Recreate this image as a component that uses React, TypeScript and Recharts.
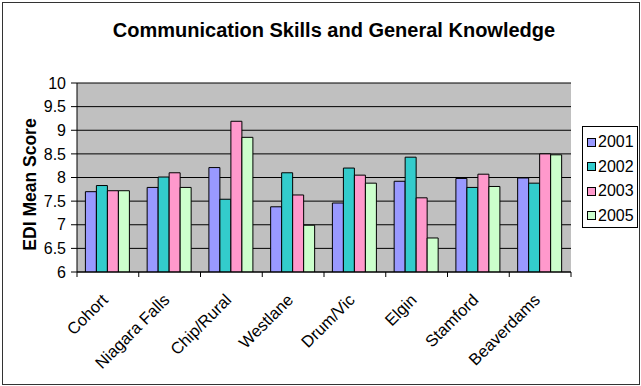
import { BarChart, Bar, XAxis, YAxis, CartesianGrid, Legend } from 'recharts';

const FONT = '"Liberation Sans", Arial, sans-serif';

const schools = [
  'Cohort',
  'Niagara Falls',
  'Chip/Rural',
  'Westlane',
  'Drum/Vic',
  'Elgin',
  'Stamford',
  'Beaverdams',
];
const scores2001 = [7.7, 7.79, 8.21, 7.38, 7.46, 7.92, 7.98, 7.99];
const scores2002 = [7.83, 8.01, 7.54, 8.1, 8.2, 8.43, 7.79, 7.88];
const scores2003 = [7.72, 8.1, 9.19, 7.63, 8.05, 7.57, 8.07, 8.5];
const scores2005 = [7.72, 7.79, 8.85, 6.99, 7.88, 6.72, 7.81, 8.48];
const yTicks = [6, 6.5, 7, 7.5, 8, 8.5, 9, 9.5, 10];

const series = [
  { key: 'y2001', name: '2001', color: '#9999FF' },
  { key: 'y2002', name: '2002', color: '#33CCCC' },
  { key: 'y2003', name: '2003', color: '#FF99CC' },
  { key: 'y2005', name: '2005', color: '#CCFFCC' },
];

const data = schools.map((school, i) => ({
  school,
  y2001: scores2001[i],
  y2002: scores2002[i],
  y2003: scores2003[i],
  y2005: scores2005[i],
}));

// category label rotated 45deg, plus the tick marks between categories
const SchoolTick = (props: any) => {
  const { x, y, payload, index } = props;
  const half = payload && payload.offset ? payload.offset : 30.875;
  const tx = x + 1;
  const ty = y + 29;
  return (
    <g>
      <line x1={x - half} y1={y} x2={x - half} y2={y + 5} stroke="#000" />
      {index === schools.length - 1 && (
        <line x1={x + half} y1={y} x2={x + half} y2={y + 5} stroke="#000" />
      )}
      <text
        x={tx}
        y={ty}
        textAnchor="end"
        transform={`rotate(-45, ${tx}, ${ty})`}
        fontSize={16.5}
        fontFamily={FONT}
        fill="#000"
      >
        {payload.value}
      </text>
    </g>
  );
};

const LegendBox = () => (
  <div
    style={{
      border: '1px solid #000',
      background: '#fff',
      boxSizing: 'border-box',
      height: 102,
      paddingTop: 3,
      paddingLeft: 4,
      fontFamily: FONT,
      fontSize: 16,
    }}
  >
    {series.map((s) => (
      <div key={s.key} style={{ display: 'flex', alignItems: 'center', height: 24.5 }}>
        <span
          style={{
            width: 7,
            height: 7,
            border: '1px solid #000',
            background: s.color,
            marginRight: 2,
          }}
        />
        <span>{s.name}</span>
      </div>
    ))}
  </div>
);

export default function App() {
  return (
    <div style={{ position: 'absolute', left: 0, top: 0, width: 641, height: 386, background: '#fff' }}>
      <div
        style={{
          position: 'absolute',
          left: 2,
          top: 2,
          width: 636,
          height: 381,
          border: '1px solid #333',
        }}
      />
      <div
        style={{
          position: 'absolute',
          left: 0,
          top: 19,
          width: 668,
          textAlign: 'center',
          fontFamily: FONT,
          fontWeight: 'bold',
          fontSize: 20,
        }}
      >
        Communication Skills and General Knowledge
      </div>
      <div style={{ position: 'absolute', left: 0, top: 0 }}>
        <BarChart
          width={641}
          height={386}
          data={data}
          margin={{ top: 83, right: 70, bottom: 34, left: 17 }}
          barCategoryGap="13.6%"
          barGap={0}
        >
          <CartesianGrid
            vertical={false}
            stroke="#000"
            fill="#C0C0C0"
            fillOpacity={1}
          />
          <XAxis
            dataKey="school"
            height={80}
            interval={0}
            tickLine={false}
            tickSize={0}
            tickMargin={0}
            stroke="#000"
            tick={<SchoolTick />}
          />
          <YAxis
            width={60}
            domain={[6, 10]}
            ticks={yTicks}
            interval={0}
            allowDataOverflow
            stroke="#000"
            tickSize={6}
            tickMargin={5}
            tick={{ fill: '#000', fontSize: 16, fontFamily: FONT }}
            label={{
              value: 'EDI Mean Score',
              angle: -90,
              position: 'center',
              dx: -17,
              dy: 7,
              fill: '#000',
              fontSize: 17.5,
              fontWeight: 'bold',
              fontFamily: FONT,
            }}
          />
          <Legend
            layout="vertical"
            align="center"
            verticalAlign="middle"
            content={<LegendBox />}
            wrapperStyle={{ left: 582, top: 126, width: 56, height: 102 }}
          />
          {series.map((s) => (
            <Bar
              key={s.key}
              dataKey={s.key}
              name={s.name}
              fill={s.color}
              stroke="#000"
              strokeWidth={1}
              isAnimationActive={false}
            />
          ))}
        </BarChart>
      </div>
    </div>
  );
}
